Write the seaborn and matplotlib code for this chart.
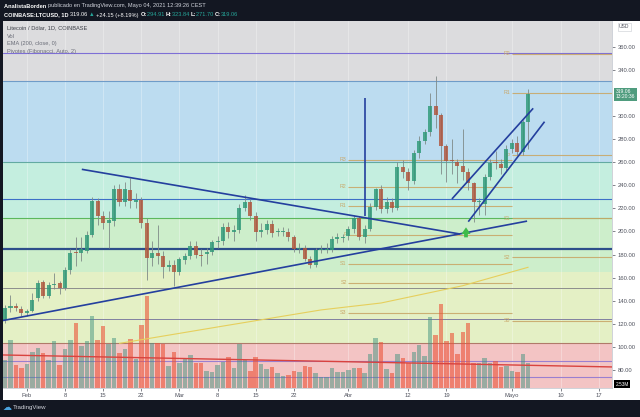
import numpy as np
import pandas as pd
import matplotlib
matplotlib.use("Agg")
import matplotlib.pyplot as plt
import matplotlib.dates as mdates
import matplotlib.transforms as mtransforms
from matplotlib.patches import Rectangle
import seaborn as sns

# --- data (Jan 28 -> May 4 2021) ---
dates = pd.date_range("2021-01-28", "2021-05-04", freq="D")

opens = [123, 134, 135, 133, 129, 131, 142, 156, 144, 154,
         155, 151, 167, 181.6, 181, 183, 197, 226.7, 213.7, 207.6,
         209, 236.8, 226, 236, 226, 227, 207.6, 177, 181, 178.7,
         169.5, 171, 165, 175, 178.7, 187, 180, 180.5, 182.5, 191,
         191.8, 204, 199.6, 201, 220.6, 226, 213.7, 199.8, 201, 206.5,
         199.6, 199.6, 199.6, 195, 184.7, 185.7, 176, 171, 184, 184.3,
         184, 193.5, 194.5, 196, 202, 211.7, 195, 202, 221.5, 236.8,
         219.3, 225.6, 220.6, 255.7, 252, 243.8, 267.8, 278.5, 286, 308.8,
         301, 274, 262, 260.5, 257, 252, 241.8, 225.3, 223.6, 247.5,
         260, 258.3, 254.8, 271.3, 277, 269.2, 294.91]
highs = [136, 145, 138, 135, 133, 147, 158, 158, 156, 164,
         157, 169, 185, 195, 195, 200, 230, 229, 218, 218,
         240, 241, 243, 246, 233, 230, 212, 192, 206, 183,
         175, 175, 178, 181, 192, 192, 185, 186, 193, 196,
         207, 208, 206, 224, 232, 228, 217, 207, 210, 210,
         203, 204, 203, 197, 190, 188, 179, 186, 188, 190,
         196, 199, 198, 205, 214, 213, 206, 225, 238, 240,
         230, 229, 260, 262, 255, 271, 283, 289, 320, 334.8,
         303, 276, 280, 263, 289, 255, 243, 229, 250, 263,
         270, 263, 275, 280, 283, 297, 323.84]
lows = [121, 130, 131, 127, 127, 130, 140, 142, 142, 150,
        146, 149, 163, 170, 174, 181, 195, 206, 202, 186,
        205, 222, 222, 220, 220, 203, 158, 170, 172, 160,
        166, 153, 162, 172, 176, 177, 170, 172, 180, 186,
        188, 194, 192, 199, 218, 210, 192, 195, 198, 195,
        196, 196, 192, 182, 181, 174, 168, 169, 181, 181,
        182, 190, 191, 193, 199, 193, 190, 200, 219, 216,
        216, 217, 219, 246, 236, 241, 264, 276, 283, 290,
        250, 243, 250, 242, 245, 236, 208.5, 214, 214, 245,
        254, 250, 252, 268, 266, 266, 271.70]
closes = [134, 135, 134, 129, 131, 141, 155.6, 144, 154, 154.5,
          151, 167, 181, 181, 185, 197, 226.7, 213.7, 207.6, 210,
          236.8, 226, 236.6, 226.7, 227, 207.6, 176.7, 181, 178.7, 169.5,
          171, 165, 176, 178.7, 187, 180, 179, 182.5, 191, 191.8,
          204, 199.6, 201, 220.6, 226, 213.7, 199.8, 201, 206.5, 199,
          199.9, 199.9, 195, 184.7, 185.7, 176, 171, 184, 184.6, 184.6,
          193.5, 195.5, 195.5, 202, 211.7, 195, 202, 221.5, 236.8, 219.3,
          225.6, 220.6, 255.7, 252, 243.8, 267.8, 278.5, 286, 308.8, 301,
          274, 261.4, 261, 257, 252, 241.8, 225.3, 226, 247.5, 259,
          259, 254.8, 271.3, 277, 269.2, 295.2, 319.06]
volume_m = [2.8, 4.8, 2.3, 2.0, 2.4, 3.6, 4.0, 3.5, 2.8, 4.7,
            2.3, 3.9, 4.8, 6.5, 4.2, 4.7, 7.2, 4.8, 6.2, 4.4,
            5.0, 3.5, 3.9, 4.9, 2.9, 6.3, 9.2, 4.5, 4.5, 4.4,
            2.2, 3.6, 2.5, 2.9, 3.3, 2.5, 2.5, 1.7, 1.6, 2.3,
            2.6, 3.1, 2.0, 4.4, 2.8, 1.7, 3.1, 2.4, 1.9, 2.1,
            1.5, 1.2, 1.3, 1.7, 1.6, 2.2, 2.1, 1.5, 1.1, 1.1,
            2.0, 1.6, 1.6, 1.8, 2.0, 2.0, 1.5, 3.4, 5.0, 4.6,
            1.9, 1.5, 3.4, 3.0, 2.5, 3.6, 4.3, 3.2, 7.1, 5.3,
            8.4, 4.7, 5.5, 3.4, 5.6, 6.5, 2.5, 2.5, 3.0, 2.5,
            2.7, 2.1, 2.2, 1.7, 1.6, 3.4, 2.5]
assert len(opens) == len(highs) == len(lows) == len(closes) == len(volume_m) == len(dates)

# EMA 200 (read at a few dates)
ema_dates = ["2021-02-18", "2021-03-09", "2021-03-27", "2021-04-07", "2021-04-22", "2021-05-04"]
ema_values = [103, 118, 132, 138, 153, 169]

# background zones (price edges) and colours
zone_edges = [0, 103.3, 165, 211.7, 260.5, 330.8, 400]
zone_colors = ["#f3c4c4", "#e4f0c5", "#cdeecb", "#c4eedf", "#bcdcf0", "#dcdcde"]

# full-width horizontal lines
hline_prices = [354.8, 330.8, 260.5, 228, 211.7, 184.6, 151, 124, 103.3, 88, 74]
hline_colors = ["#7e6fd6", "#6f9cc8", "#63aaa2", "#3d6fc7", "#5cb85c", "#2d4e8a",
                "#8d8d8d", "#8080a0", "#b07a6a", "#9a7fd0", "#9a7fd0"]
hline_widths = [0.8, 0.8, 0.8, 0.8, 0.8, 1.6, 0.7, 0.7, 0.8, 0.8, 0.8]

# fibonacci pivots (monthly)
piv_april_labels = ["R3", "R2", "R1", "P", "S1", "S2", "S3"]
piv_april_levels = [262, 238.6, 222.1, 197, 172, 155.5, 129.5]
piv_may_labels = ["R2", "R1", "P", "S1", "S2", "S3"]
piv_may_levels = [354.3, 320.5, 265.9, 211.3, 177.5, 122.8]
piv_april_span = ["2021-04-01", "2021-05-01"]
piv_may_span = ["2021-05-01", "2021-05-20"]

# drawn trendlines (date, price)
trend_down = (["2021-02-11 02:00", "2021-04-21 12:00"], [253.9, 197.8])
trend_up = (["2021-01-27 15:00", "2021-05-03 19:00"], [122.8, 209.0])
trend_vert = (["2021-04-04", "2021-04-04"], [213.0, 315.5])
chan_upper = (["2021-04-20", "2021-05-04 22:00"], [228.2, 306.8])
chan_lower = (["2021-04-23", "2021-05-07"], [208.5, 295.2])
vol_line = (["2021-01-27", "2021-05-20"], [93.0, 82.5])
arrow_date = "2021-04-22 14:00"
arrow_prices = [192.5, 206.0]

price_ticks = [80, 100, 120, 140, 160, 180, 200, 220, 240, 260, 280, 300, 340, 360]
date_ticks = ["2021-02-01", "2021-02-08", "2021-02-15", "2021-02-22", "2021-03-01",
              "2021-03-08", "2021-03-15", "2021-03-22", "2021-04-01", "2021-04-12",
              "2021-04-19", "2021-05-01", "2021-05-10", "2021-05-17"]
date_labels = ["Feb", "8", "15", "22", "Mar", "8", "15", "22", "Abr", "12", "19",
               "Mayo", "10", "17"]

view_x = ["2021-01-27 15:00", "2021-05-19 09:00"]
view_y = (64.3, 382.5)
vol_top = 36.7

DARK = "#131722"
W, H = 640, 417


def fx(px):
    return px / W


def fy(py):
    return 1 - py / H


def dnum(d):
    return mdates.date2num(pd.to_datetime(d))


def text_run(fig, parts, x_px, y_px, size):
    """Place coloured text pieces one after the other on a line."""
    renderer = fig.canvas.get_renderer()
    x = x_px
    for txt, col, wt in parts:
        t = fig.text(fx(x), fy(y_px), txt, fontsize=size, color=col,
                     fontweight=wt, va="center")
        x += t.get_window_extent(renderer).width
    return x


sns.set_theme(style="white")
plt.rcParams["font.family"] = ["Liberation Sans", "DejaVu Sans"]

fig = plt.figure(figsize=(6.4, 4.17), dpi=100, facecolor=DARK)
fig.add_artist(Rectangle((fx(3), fy(400)), fx(637), 379 / H, transform=fig.transFigure,
                         facecolor="white", edgecolor="none", zorder=-5))

pos = [fx(3), fy(388), 609 / W, 367 / H]
ax_bg = fig.add_axes(pos)
ax_v = fig.add_axes(pos)
ax = fig.add_axes(pos)

xn = mdates.date2num(dates)
o = np.array(opens)
c = np.array(closes)
up = c >= o

for a in (ax_bg, ax, ax_v):
    a.set_xlim(dnum(view_x[0]), dnum(view_x[1]))
ax_bg.set_ylim(*view_y)
ax.set_ylim(*view_y)
ax_v.set_ylim(0, vol_top)

# --- background layer ---
for lo, hi, col in zip(zone_edges[:-1], zone_edges[1:], zone_colors):
    ax_bg.axhspan(lo, hi, color=col, lw=0, zorder=0)
for d in date_ticks:
    ax_bg.axvline(dnum(d), color="white", alpha=0.35, lw=0.6, zorder=1)
for p, col, lw in zip(hline_prices, hline_colors, hline_widths):
    ax_bg.axhline(p, color=col, lw=lw, zorder=2)

tan = "#c9a86a"
for labels, levels, span in [(piv_april_labels, piv_april_levels, piv_april_span),
                             (piv_may_labels, piv_may_levels, piv_may_span)]:
    x0, x1 = dnum(span[0]), dnum(span[1])
    ax_bg.hlines(levels, x0, x1, color=tan, lw=0.8, alpha=0.9, zorder=3)
    for lab, lev in zip(labels, levels):
        ax_bg.text(x0 - 0.3, lev, lab, ha="right", va="center", fontsize=3.8,
                   color=tan, zorder=4)
ax_bg.set_axis_off()

# --- volume layer ---
vol_colors = [(0.26, 0.58, 0.50, 0.5) if u else (0.92, 0.33, 0.22, 0.6) for u in up]
ax_v.bar(xn, volume_m, width=0.82, color=vol_colors, linewidth=0)
ax_v.set_axis_off()

# --- price layer ---
ax.patch.set_visible(False)
body_cols = [(0.18, 0.60, 0.47, 0.82) if u else (0.69, 0.33, 0.23, 0.82) for u in up]
ax.vlines(xn, lows, highs, color="#7f8a88", lw=0.6, zorder=3)
ax.bar(xn, np.maximum(np.abs(c - o), 0.9), bottom=np.minimum(o, c), width=0.74,
       color=body_cols, linewidth=0, zorder=4)

sns.lineplot(x=[dnum(d) for d in ema_dates], y=ema_values, ax=ax, color="#e6cf5c",
             lw=0.8, zorder=2)
sns.lineplot(x=[dnum(d) for d in vol_line[0]], y=vol_line[1], ax=ax, color="#d9433f",
             lw=1.0, zorder=2)

navy = "#243f9e"
for xs, ys in [trend_down, trend_up, trend_vert, chan_upper, chan_lower]:
    ax.plot([dnum(d) for d in xs], ys, color=navy, lw=1.2, zorder=5,
            solid_capstyle="butt")

ax.annotate("", xy=(dnum(arrow_date), arrow_prices[1]),
            xytext=(dnum(arrow_date), arrow_prices[0]),
            arrowprops=dict(arrowstyle="simple,head_width=1.1,head_length=0.8,tail_width=0.45",
                            color="#3dbb4a", lw=0, mutation_scale=6), zorder=6)

# axes / ticks
ax.yaxis.tick_right()
ax.set_yticks(price_ticks)
ax.set_yticklabels([f"{v:.2f}" for v in price_ticks])
ax.set_xticks([dnum(d) for d in date_ticks])
ax.set_xticklabels(date_labels)
ax.tick_params(axis="y", length=2, width=0.5, pad=2, labelsize=4.2,
               colors="#50535e", right=True, left=False)
ax.tick_params(axis="x", length=2, width=0.5, pad=1.5, labelsize=4.2,
               colors="#50535e", bottom=True)
for side in ("top", "left"):
    ax.spines[side].set_visible(False)
for side in ("right", "bottom"):
    ax.spines[side].set_color("#c8cbd2")
    ax.spines[side].set_linewidth(0.6)
ax.grid(False)

# last price label
blend = mtransforms.blended_transform_factory(ax.transAxes, ax.transData)
ax.text(1.006, closes[-1], "319.06\n13:20:36", transform=blend, ha="left", va="center",
        fontsize=3.6, color="white", linespacing=1.0, zorder=10, clip_on=False,
        bbox=dict(boxstyle="square,pad=0.3", fc="#4f9c7e", ec="none"))
ax.text(1.006, view_y[0] + 1.2, "2.53M", transform=blend, ha="left", va="bottom",
        fontsize=3.4, color="white", zorder=10, clip_on=False,
        bbox=dict(boxstyle="square,pad=0.25", fc="black", ec="none"))
fig.text(fx(619), fy(27), "USD", fontsize=3.6, color="#50535e", va="center",
         bbox=dict(boxstyle="square,pad=0.3", fc="white", ec="#c8cbd2", lw=0.4))

# legend inside the chart
fig.text(fx(7), fy(28), "Litecoin / Dólar, 1D, COINBASE", fontsize=4.1,
         color="#3c3f47", va="center")
fig.text(fx(7), fy(36), "Vol", fontsize=4.1, color="#6a6d78", va="center")
fig.text(fx(7), fy(44), "EMA (200, close, 0)", fontsize=4.1, color="#6a6d78", va="center")
fig.text(fx(7), fy(52), "Pivotes (Fibonacci, Auto, 2)", fontsize=4.1,
         color="#6a6d78", va="center")

# header bar
teal = "#26a69a"
text_run(fig, [("AnalistaBorden ", "white", "bold"),
               ("publicado en TradingView.com, Mayo 04, 2021 12:39:26 CEST", "#d1d4dc", "normal")],
         4, 6, 4.1)
text_run(fig, [("COINBASE:LTCUSD, 1D ", "white", "bold"),
               ("319.06 ", "white", "normal"),
               ("▲ ", teal, "normal"),
               ("+24.15 (+8.19%) ", "white", "normal"),
               ("O:", "white", "bold"), ("294.91 ", teal, "normal"),
               ("H:", "white", "bold"), ("323.84 ", teal, "normal"),
               ("L:", "white", "bold"), ("271.70 ", teal, "normal"),
               ("C:", "white", "bold"), ("319.06", teal, "normal")],
         4, 15, 4.1)

# footer
fig.text(fx(3), fy(408), "☁", fontsize=6.5, color="#4aa3df", va="center",
         family="DejaVu Sans")
fig.text(fx(13), fy(408), "TradingView", fontsize=4.4, color="#d1d4dc", va="center")

fig.savefig("out.png", dpi=100, facecolor=DARK)
